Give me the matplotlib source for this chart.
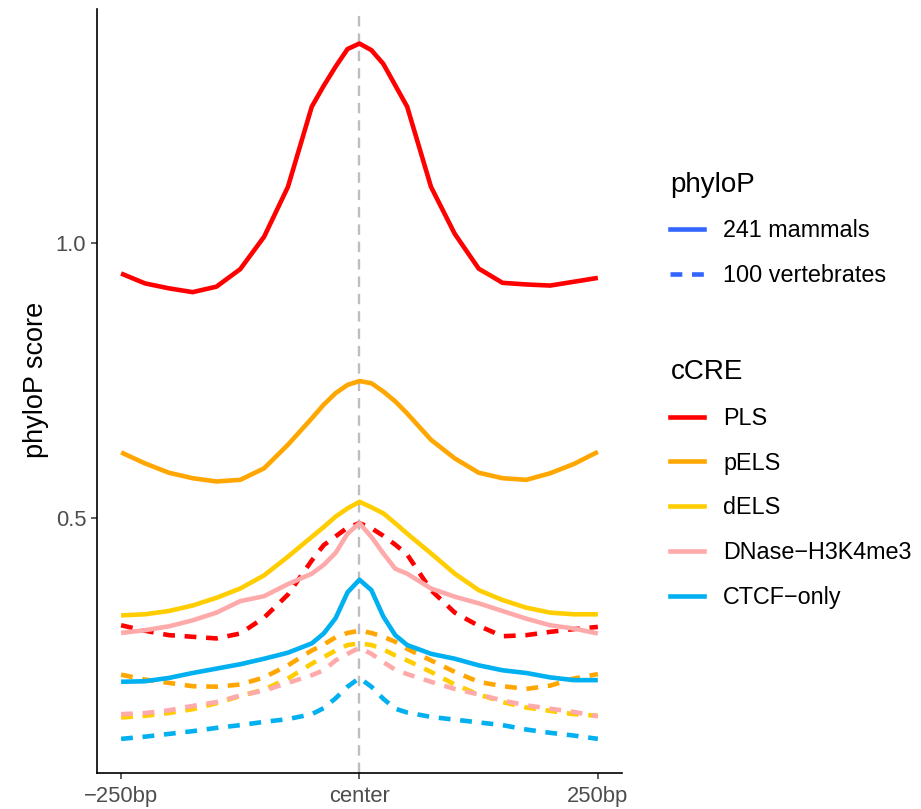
import matplotlib
matplotlib.use("Agg")
import matplotlib.pyplot as plt
from matplotlib.lines import Line2D

plt.rcParams["font.family"] = ["Liberation Sans", "DejaVu Sans"]
plt.rcParams["lines.scale_dashes"] = False

# position relative to the cCRE center, bp
POS = [-250, -225, -200, -175, -150, -125, -100, -75, -50, -37.5, -25, -12.5, 0,
       12.5, 25, 37.5, 50, 75, 100, 125, 150, 175, 200, 225, 250]

# 241 mammals
PLS_241 = [0.945, 0.927, 0.918, 0.911, 0.921, 0.953, 1.012, 1.103, 1.249, 1.287, 1.322, 1.354, 1.364,
           1.352, 1.327, 1.288, 1.249, 1.103, 1.017, 0.954, 0.928, 0.925, 0.923, 0.930, 0.937]
PELS_241 = [0.619, 0.599, 0.582, 0.572, 0.566, 0.569, 0.590, 0.633, 0.681, 0.706, 0.727, 0.742, 0.749,
            0.745, 0.730, 0.712, 0.690, 0.642, 0.608, 0.582, 0.572, 0.569, 0.581, 0.598, 0.620]
DELS_241 = [0.322, 0.324, 0.330, 0.340, 0.354, 0.371, 0.395, 0.429, 0.465, 0.483, 0.502, 0.517, 0.529,
            0.519, 0.508, 0.490, 0.471, 0.435, 0.398, 0.368, 0.350, 0.336, 0.327, 0.324, 0.324]
DNASE_241 = [0.290, 0.295, 0.302, 0.313, 0.327, 0.348, 0.357, 0.379, 0.398, 0.414, 0.436, 0.471, 0.490,
             0.465, 0.435, 0.407, 0.398, 0.371, 0.356, 0.344, 0.330, 0.316, 0.304, 0.298, 0.289]
CTCF_241 = [0.201, 0.202, 0.208, 0.217, 0.225, 0.233, 0.243, 0.254, 0.271, 0.289, 0.317, 0.364, 0.387,
            0.368, 0.320, 0.286, 0.268, 0.252, 0.243, 0.231, 0.222, 0.217, 0.209, 0.204, 0.204]

# 100 vertebrates
PLS_100 = [0.304, 0.294, 0.286, 0.283, 0.280, 0.289, 0.318, 0.360, 0.422, 0.450, 0.466, 0.482, 0.490,
           0.481, 0.467, 0.451, 0.433, 0.368, 0.327, 0.303, 0.284, 0.286, 0.292, 0.297, 0.301]
PELS_100 = [0.214, 0.205, 0.199, 0.193, 0.192, 0.196, 0.209, 0.231, 0.258, 0.269, 0.282, 0.290, 0.294,
            0.290, 0.283, 0.274, 0.261, 0.240, 0.219, 0.201, 0.193, 0.188, 0.194, 0.207, 0.215]
DELS_100 = [0.136, 0.139, 0.144, 0.151, 0.162, 0.175, 0.187, 0.207, 0.234, 0.246, 0.258, 0.268, 0.271,
            0.268, 0.260, 0.249, 0.240, 0.219, 0.196, 0.178, 0.164, 0.154, 0.148, 0.142, 0.139]
DNASE_100 = [0.142, 0.144, 0.149, 0.157, 0.164, 0.176, 0.185, 0.199, 0.213, 0.222, 0.240, 0.252, 0.263,
             0.252, 0.237, 0.223, 0.215, 0.201, 0.188, 0.178, 0.167, 0.158, 0.152, 0.146, 0.138]
CTCF_100 = [0.097, 0.101, 0.106, 0.111, 0.117, 0.122, 0.128, 0.133, 0.142, 0.153, 0.171, 0.192, 0.208,
            0.192, 0.170, 0.152, 0.145, 0.137, 0.132, 0.127, 0.122, 0.114, 0.108, 0.103, 0.097]

CCRE = ["PLS", "pELS", "dELS", "DNase\u2212H3K4me3", "CTCF\u2212only"]
COLORS = ["#FF0000", "#FFA700", "#FFCD00", "#FFAAAA", "#00B0F0"]
SERIES_241 = [PLS_241, PELS_241, DELS_241, DNASE_241, CTCF_241]
SERIES_100 = [PLS_100, PELS_100, DELS_100, DNASE_100, CTCF_100]

PHYLOP = ["241 mammals", "100 vertebrates"]
PHYLOP_COLOR = "#3366FF"

X_TICKS = [-250, 0, 250]
X_LABELS = ["\u2212250bp", "center", "250bp"]

LW = 3.3
DASH = (0, (8.5, 7.0))

fig = plt.figure(figsize=(9.21, 8.09), dpi=100)
ax = fig.add_axes([0.1056, 0.0445, 0.675 - 0.1056, 0.9885 - 0.0445])

ax.axvline(0, color="#BEBEBE", lw=1.7, linestyle=(0, (7.5, 5)), zorder=1)

for vals, col in zip(SERIES_100, COLORS):
    ax.plot(POS, vals, color=col, lw=LW, linestyle=DASH, zorder=2)
for vals, col in zip(SERIES_241, COLORS):
    ax.plot(POS, vals, color=col, lw=LW, zorder=3, solid_capstyle="butt",
            solid_joinstyle="round")

ax.set_xlim(-275, 275)
ax.set_ylim(0.0348, 1.4264)
ax.set_xticks(X_TICKS)
ax.set_xticklabels(X_LABELS)
ax.set_yticks([0.5, 1.0])
ax.set_yticklabels(["0.5", "1.0"])
ax.tick_params(axis="both", colors="#333333", width=1.1, length=4.5,
               labelsize=15.8, labelcolor="#4D4D4D")
ax.tick_params(axis="x", pad=5)
ax.tick_params(axis="y", pad=3.5)
for side in ["top", "right"]:
    ax.spines[side].set_visible(False)
for side in ["left", "bottom"]:
    ax.spines[side].set_linewidth(1.2)
    ax.spines[side].set_color("black")

ax.set_ylabel("phyloP score", fontsize=19.5)
ax.yaxis.set_label_coords(-0.092, 0.515)

h1 = [Line2D([], [], color=PHYLOP_COLOR, lw=LW),
      Line2D([], [], color=PHYLOP_COLOR, lw=LW, linestyle=DASH)]
leg1 = fig.legend(h1, PHYLOP, title="phyloP", loc="upper left",
                  bbox_to_anchor=(0.728, 0.788), frameon=False, fontsize=16.8,
                  title_fontsize=20, handlelength=1.45, handletextpad=0.8,
                  labelspacing=0.93, borderpad=0, borderaxespad=0, alignment="left")

h2 = [Line2D([], [], color=c, lw=LW) for c in COLORS]
leg2 = fig.legend(h2, CCRE, title="cCRE", loc="upper left",
                  bbox_to_anchor=(0.728, 0.556), frameon=False, fontsize=16.8,
                  title_fontsize=20, handlelength=1.45, handletextpad=0.8,
                  labelspacing=0.93, borderpad=0, borderaxespad=0, alignment="left")

fig.savefig("out.png", dpi=100)
